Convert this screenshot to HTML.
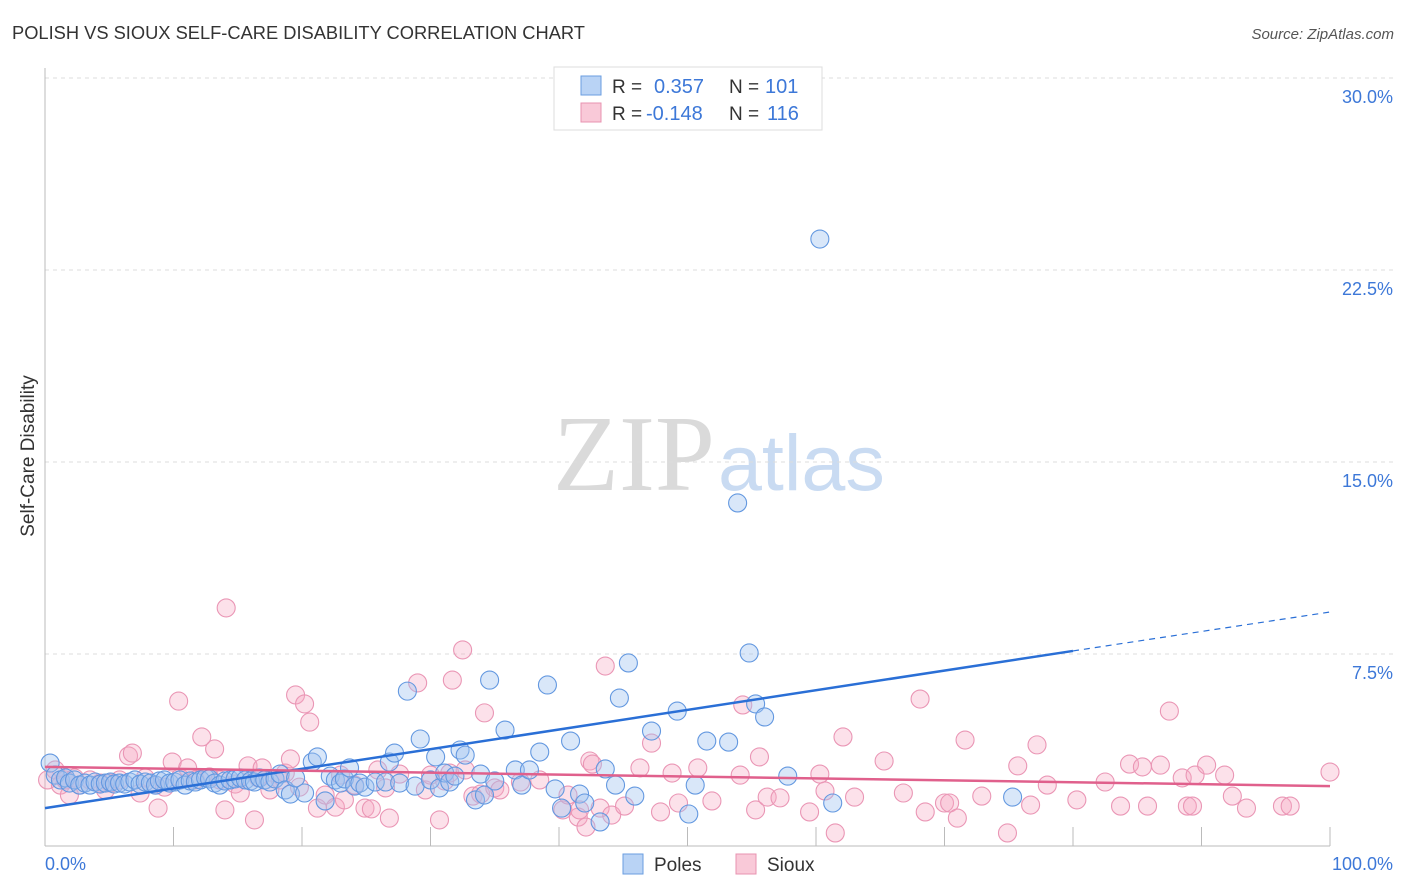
<!DOCTYPE html>
<html><head><meta charset="utf-8"><style>
body{margin:0;background:#fff;font-family:"Liberation Sans",sans-serif}
svg{display:block}
</style></head><body>
<svg id="chart" width="1406" height="892" xmlns="http://www.w3.org/2000/svg" font-family="Liberation Sans, sans-serif">
<text x="12" y="39" font-size="18.3" fill="#333">POLISH VS SIOUX SELF-CARE DISABILITY CORRELATION CHART</text>
<text x="1394" y="39" font-size="15" fill="#555" font-style="italic" text-anchor="end">Source: ZipAtlas.com</text>
<text transform="translate(34,456) rotate(-90)" font-size="19" fill="#333" text-anchor="middle">Self-Care Disability</text>
<g>
<text x="553" y="490" font-size="108" font-family="Liberation Serif, serif" fill="#dadada">ZIP</text>
<text x="718" y="490" font-size="79" fill="#c9dbf2">atlas</text>
</g>
<g id="grid"></g>
<g id="axes"></g>
<g id="trends"></g>
<g id="pts"></g>
<g>
<rect x="554" y="67" width="268" height="63" fill="#fff" stroke="#ddd"/>
<rect x="581" y="76" width="20" height="19" fill="#b9d3f5" stroke="#6a9ee0"/>
<rect x="581" y="103" width="20" height="19" fill="#f9c9d8" stroke="#e893b0"/>
<text x="612" y="93" font-size="19" fill="#333">R =</text>
<text x="654" y="93" font-size="20" fill="#3d78d8">0.357</text>
<text x="729" y="93" font-size="19" fill="#333">N =</text>
<text x="765" y="93" font-size="20" fill="#3d78d8">101</text>
<text x="612" y="120" font-size="19" fill="#333">R =</text>
<text x="646" y="120" font-size="20" fill="#3d78d8">-0.148</text>
<text x="729" y="120" font-size="19" fill="#333">N =</text>
<text x="767" y="120" font-size="20" fill="#3d78d8">116</text>
</g>
<g>
<rect x="623" y="854" width="20" height="20" fill="#b9d3f5" stroke="#6a9ee0"/>
<text x="654" y="871" font-size="19" fill="#333">Poles</text>
<rect x="736" y="854" width="20" height="20" fill="#f9c9d8" stroke="#e893b0"/>
<text x="767" y="871" font-size="19" fill="#333">Sioux</text>
</g>
</svg>
<script>
const xTicks=[0,10,20,30,40,50,60,70,80,90,100];
const yTicks=[7.5,15,22.5,30];
const yTickLabels=["7.5%","15.0%","22.5%","30.0%"];
const xEndLabels=["0.0%","100.0%"];
const polesX=[0.4,0.8,1.2,1.6,1.9,2.3,2.7,3.1,3.5,3.9,4.3,4.7,5.1,5.4,5.8,6.2,6.6,7.0,7.4,7.8,8.2,8.6,8.9,9.3,9.7,10.1,10.5,10.9,11.3,11.7,12.1,12.5,12.8,13.2,13.6,14.0,14.4,14.8,15.2,15.6,16.0,16.3,16.7,17.1,17.5,17.9,18.3,18.7,19.1,19.5,20.2,20.8,21.2,21.8,22.2,22.6,23.0,23.3,23.7,24.1,24.5,24.9,25.7,26.5,26.8,27.2,27.6,28.2,28.8,29.2,30.0,30.4,30.7,31.1,31.5,31.9,32.3,32.7,33.5,33.9,34.2,34.6,35.0,35.8,36.6,37.1,37.7,38.5,39.1,39.7,40.2,40.9,41.6,42.0,43.2,43.6,44.4,44.7,45.4,45.9,47.2,49.2,50.1,50.6,51.5,53.2,53.9,54.8,55.3,56.0,57.8,60.3,61.3,75.3];
const polesY=[3.24,2.77,2.58,2.66,2.46,2.58,2.38,2.46,2.38,2.5,2.42,2.46,2.5,2.42,2.46,2.42,2.5,2.58,2.42,2.5,2.46,2.38,2.54,2.58,2.46,2.5,2.58,2.38,2.54,2.5,2.58,2.66,2.62,2.46,2.38,2.54,2.58,2.62,2.66,2.58,2.54,2.5,2.66,2.58,2.5,2.62,2.81,2.19,2.03,2.66,2.07,3.28,3.48,1.76,2.73,2.58,2.46,2.62,3.05,2.34,2.46,2.3,2.5,2.5,3.28,3.63,2.46,6.05,2.34,4.18,2.58,3.48,2.27,2.85,2.5,2.73,3.75,3.55,1.8,2.81,1.99,6.48,2.54,4.53,2.97,2.38,2.97,3.67,6.29,2.23,1.48,4.1,2.03,1.68,0.94,3.01,2.38,5.78,7.15,1.95,4.49,5.27,1.25,2.38,4.1,4.06,13.4,7.54,5.55,5.04,2.73,23.71,1.68,1.91];
const siouxX=[0.2,0.8,1.2,1.6,1.9,2.3,2.7,3.5,4.3,4.7,5.1,5.8,6.5,6.8,7.4,7.8,8.6,8.8,9.3,9.9,10.4,10.5,11.1,11.7,12.2,12.8,13.2,13.6,14.0,14.1,14.8,15.2,15.8,16.3,16.6,16.9,17.5,18.3,18.7,19.1,19.5,19.8,20.2,20.6,21.2,21.8,22.6,23.0,23.3,24.1,24.9,25.4,25.9,26.5,26.8,27.6,29.0,29.6,30.0,30.7,31.1,31.5,31.7,32.5,32.7,33.3,33.9,34.2,35.0,35.4,37.0,38.5,40.3,40.7,41.5,41.6,42.1,42.4,42.6,43.2,43.6,44.1,45.1,46.3,47.2,47.9,48.8,49.3,50.8,51.9,54.1,54.3,55.3,55.6,56.2,57.2,59.5,60.3,60.7,61.5,62.1,63.0,65.3,66.8,68.1,68.5,70.0,70.4,71.0,71.6,72.9,74.9,75.7,76.7,77.2,78.0,80.3,82.5,83.7,84.4,85.4,85.8,86.8,87.5,88.5,88.9,89.3,89.5,90.4,91.8,92.4,93.5,96.3,96.9,100];
const siouxY=[2.58,2.97,2.38,2.58,1.99,2.66,2.38,2.58,2.46,2.19,2.46,2.58,3.52,3.63,2.07,2.66,2.38,1.48,2.3,3.28,5.66,2.66,3.05,2.58,4.26,2.7,3.79,2.58,1.41,9.3,2.42,2.07,3.13,1.02,2.66,3.05,2.19,2.58,2.85,3.4,5.9,2.3,5.55,4.84,1.48,1.99,1.52,2.77,1.8,2.38,1.48,1.45,2.97,2.27,1.09,2.81,6.37,2.19,2.77,1.02,2.54,2.85,6.48,7.66,2.97,1.95,2.03,5.2,2.27,2.19,2.5,2.58,1.41,1.99,1.13,1.41,0.74,3.32,3.2,1.48,7.03,1.21,1.56,3.05,4.02,1.33,2.85,1.68,3.05,1.76,2.77,5.51,1.41,3.48,1.91,1.88,1.33,2.81,2.15,0.51,4.26,1.91,3.32,2.07,5.74,1.33,1.68,1.68,1.09,4.14,1.95,0.51,3.13,1.6,3.95,2.38,1.8,2.5,1.56,3.2,3.09,1.56,3.16,5.27,2.66,1.56,1.56,2.77,3.16,2.77,1.95,1.48,1.56,1.56,2.89];
const polesTrend=[1.48,7.62,9.14];
const polesTrendX=[0,80,100];
const siouxTrend=[3.09,2.34];
const siouxTrendX=[0,100];

const X0=45,X1=1330,Y0=846,YS=25.6;
const sx=v=>X0+(X1-X0)*v/100;
const sy=v=>Y0-v*YS;
const NS="http://www.w3.org/2000/svg";
function mk(tag,attrs,parent,txt){const e=document.createElementNS(NS,tag);for(const k in attrs)e.setAttribute(k,attrs[k]);if(txt!=null)e.textContent=txt;parent.appendChild(e);return e;}
const grid=document.getElementById('grid'),axes=document.getElementById('axes'),trends=document.getElementById('trends'),pts=document.getElementById('pts');
yTicks.forEach((t,i)=>{
 const l=mk('line',{x1:X0,x2:1393,y1:sy(t),y2:sy(t),stroke:'#dcdcdc','stroke-dasharray':'4,4'},grid);
 
 
 const tx=mk('text',{x:1393,y:sy(t)+25,'font-size':18,fill:'#3d78d8','text-anchor':'end'},grid,yTickLabels[i]);
 
 
});
const ya=mk('line',{x1:X0,x2:X0,y1:68,y2:Y0,stroke:'#bbb'},axes);


const xa=mk('line',{x1:X0,x2:X1,y1:Y0,y2:Y0,stroke:'#bbb'},axes);


xTicks.forEach(t=>{
 const tk=mk('line',{x1:sx(t),x2:sx(t),y1:Y0-19,y2:Y0,stroke:'#bbb'},axes);
 
 
});
const xl0=mk('text',{x:45,y:870,'font-size':18,fill:'#3d78d8'},axes,xEndLabels[0]);


const xl1=mk('text',{x:1393,y:870,'font-size':18,fill:'#3d78d8','text-anchor':'end'},axes,xEndLabels[1]);


function dot(x,y,fill,stroke,name){
 const c=mk('circle',{cx:sx(x),cy:sy(y),r:9,fill:fill,stroke:stroke,'stroke-width':1.1},pts);
 
 
}
siouxX.forEach((x,i)=>dot(x,siouxY[i],'rgba(246,170,196,0.35)','#ea96b5','sioux-point'));
polesX.forEach((x,i)=>dot(x,polesY[i],'rgba(160,196,240,0.4)','#6398e0','poles-point'));
const pt1=mk('line',{x1:sx(polesTrendX[0]),y1:sy(polesTrend[0]),x2:sx(polesTrendX[1]),y2:sy(polesTrend[1]),stroke:'#2a6fd6','stroke-width':2.5},trends);


const pt2=mk('line',{x1:sx(polesTrendX[1]),y1:sy(polesTrend[1]),x2:sx(polesTrendX[2]),y2:sy(polesTrend[2]),stroke:'#2a6fd6','stroke-width':1.2,'stroke-dasharray':'6,5'},trends);


const st=mk('line',{x1:sx(siouxTrendX[0]),y1:sy(siouxTrend[0]),x2:sx(siouxTrendX[1]),y2:sy(siouxTrend[1]),stroke:'#e0608c','stroke-width':2.5},trends);


document.getElementById('chart').appendChild(trends);
</script>
</body></html>
